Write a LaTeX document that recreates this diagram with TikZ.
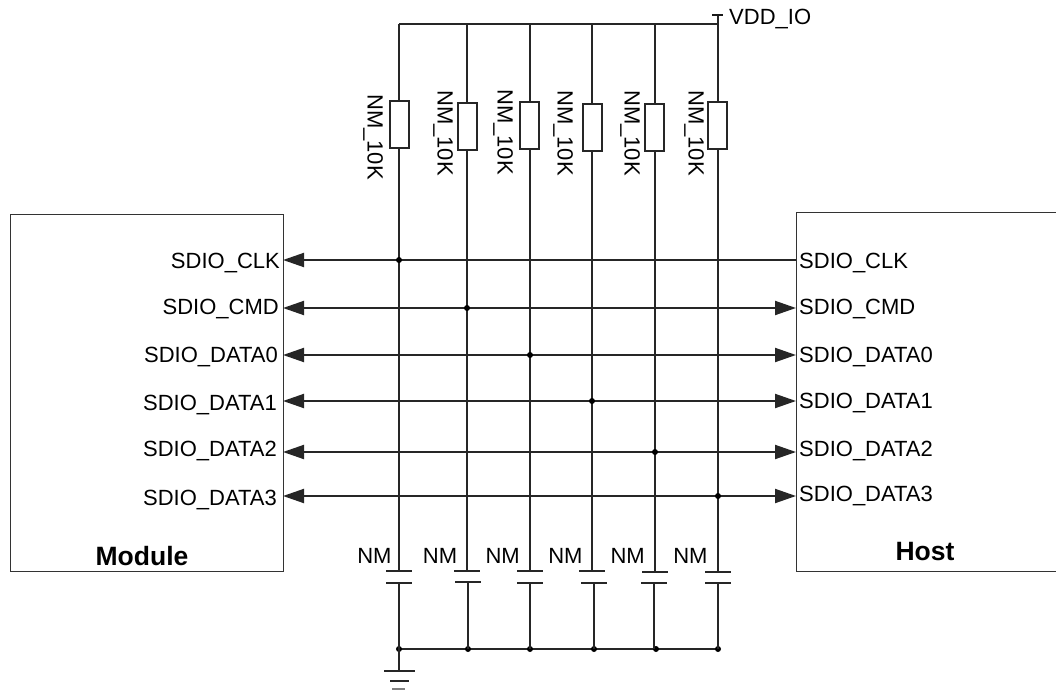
\documentclass[tikz,border=0pt]{standalone}
\usepackage{fontspec}
\setmainfont{Liberation Sans}
\usetikzlibrary{arrows.meta}
\tikzset{
  x=1pt,y=-1pt,
  wire/.style={line width=2pt,draw=black!85},
  blockbox/.style={draw=black!80,line width=1pt,fill=none},
  resbox/.style={draw=black!85,line width=2pt,fill=white,minimum width=19pt,minimum height=47pt,inner sep=0pt},
  plate/.style={line width=2pt,draw=black!85},
  dotnode/.style={circle,fill=black,inner sep=0pt,minimum size=6pt},
  lab/.style={inner sep=0pt,font=\fontsize{22}{24}\selectfont},
  blab/.style={inner sep=0pt,font=\fontsize{26.5}{28}\selectfont\bfseries},
  sigboth/.style={wire,{Triangle[length=21pt,width=14pt]}-{Triangle[length=21pt,width=14pt]}},
  sigleft/.style={wire,{Triangle[length=21pt,width=14pt]}-},
}
\begin{document}
\begin{tikzpicture}
\useasboundingbox (0,0) rectangle (1056,690);
% blocks
\draw[blockbox] (283,214) coordinate (modtr) -- (10,214) -- (10,571) -- (283,571) -- cycle;
\draw[blockbox] (1056,212) -- (796,212) -- (796,571) -- (1056,571);
\node[blab] (modulelab) at (142,556) {Module};
\node[blab] (hostlab) at (925,552) {Host};
% top rail and supply
\coordinate (rail1) at (399,24);
\coordinate (rail2) at (467,24);
\coordinate (rail3) at (530,24);
\coordinate (rail4) at (592,24);
\coordinate (rail5) at (655,24);
\coordinate (rail6) at (718,24);
\coordinate (vddtop) at (718,15);
\coordinate (vddl) at (712,15);
\coordinate (vddr) at (723,15);
\draw[wire] (rail1) -- (rail6);
\draw[wire] (vddtop) -- (rail6);
\draw[line width=1.1pt,draw=black!90] (vddl) -- (vddr);
\node[lab,anchor=west] (vdd) at (729,19.5) {VDD\_IO};
% bottom rail
\coordinate (gnd1) at (399,649);
\coordinate (gnd2) at (468,649);
\coordinate (gnd3) at (530,649);
\coordinate (gnd4) at (594,649);
\coordinate (gnd5) at (656,649);
\coordinate (gnd6) at (718,649);
\draw[wire] (gnd1) -- (gnd6);
\foreach \i in {1,...,6} \node[dotnode] (gdot\i) at (gnd\i) {};
% columns: index / wire x / res centre x / res centre y / label x / label y / plate-top y / plate-bottom y / cap x / nm right x
\foreach \i/\wx/\rx/\ry/\lx/\ly/\pt/\pb/\cx/\nx in {
  1/399/399.5/124.5/373/137/571/583/399/391.7,
  2/467/467.5/126.5/443/133/571/582/468/457.3,
  3/530/529.5/125.5/503/132/571/583/530/520,
  4/592/592.5/127.5/563/133/571/583/594/582.7,
  5/655/654.5/127.5/630/133/572/583/654/645,
  6/718/717.5/125.5/694/133/572/583/718/707.7}{
  \node[resbox] (res\i) at (\rx,\ry) {};
  \node[lab,rotate=-90] (reslab\i) at (\lx,\ly) {NM\_10K};
  \coordinate (capt\i) at (\wx,\pt);
  \coordinate (capb\i) at (\cx,\pb);
  \draw[wire] (rail\i) -- (rail\i |- res\i.north);
  \draw[wire] (capt\i |- res\i.south) -- (capt\i);
  \draw[plate] ([xshift=-13pt]capt\i) -- ([xshift=13pt]capt\i);
  \draw[plate] ([xshift=-13pt]capb\i) -- ([xshift=13pt]capb\i);
  \draw[wire] (capb\i) -- (capb\i |- gnd\i);
  \node[lab,anchor=east] (nm\i) at (\nx,556) {NM};
}
% ground symbol
\coordinate (gndsym) at (399,671);
\draw[wire] (gnd1) -- (gndsym);
\draw[plate] (384,671) -- (415,671);
\draw[plate] (390,681) -- (409,681);
\draw[line width=1.4pt,draw=black!50] (392,689) -- (405,689);
% signals
\foreach \n/\y/\ml/\my/\hy/\jx/\txt/\st in {
  1/260/280/263.5/263/399/SDIO\_CLK/sigleft,
  2/308/279/309.5/309.5/467/SDIO\_CMD/sigboth,
  3/355/278/357.5/357.5/530/SDIO\_DATA0/sigboth,
  4/401/277/405/403.5/592/SDIO\_DATA1/sigboth,
  5/452/277/451/451/655/SDIO\_DATA2/sigboth,
  6/496/277/499.5/495.5/718/SDIO\_DATA3/sigboth}{
  \coordinate (mp\n) at (283,\y);
  \coordinate (hp\n) at (796,\y);
  \draw[\st] (mp\n) -- (hp\n);
  \node[dotnode] (j\n) at (\jx,\y) {};
  \node[lab,anchor=east] (ml\n) at (\ml,\my) {\txt};
  \node[lab,anchor=west] (hl\n) at (799,\hy) {\txt};
}
\end{tikzpicture}
\end{document}
